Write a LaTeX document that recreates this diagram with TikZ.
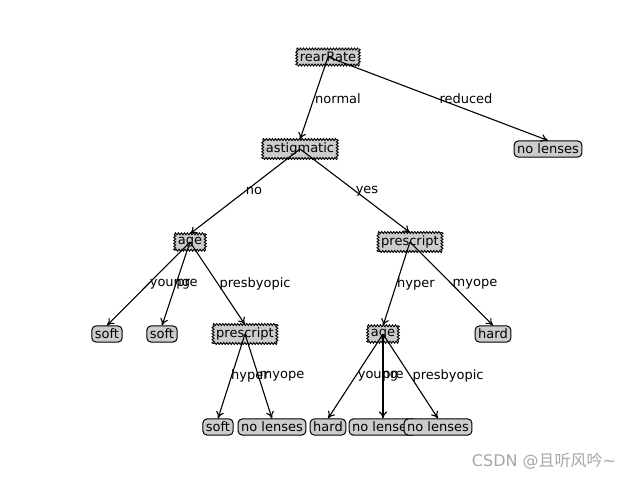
\documentclass[tikz,border=0pt]{standalone}
\usepackage{fontspec}
\setmainfont{DejaVu Sans}
\newfontfamily\cjk{Noto Sans CJK SC}
\usetikzlibrary{decorations.pathmorphing,arrows.meta}
\begin{document}
\begin{tikzpicture}[x=1pt,y=-1pt,font=\fontsize{13}{15}\selectfont,
  dec/.style={fill=black!20,inner sep=3pt},
  zz/.style={line width=0.9pt,decorate,decoration={zigzag,segment length=3pt,amplitude=1pt}},
  leaf/.style={fill=black!20,draw,line width=1pt,rounded corners=4pt,inner sep=3pt},
  arr/.style={-{To[length=7pt,width=8pt]},line width=1.1pt},
  lab/.style={inner sep=0pt}]
\useasboundingbox (0,0) rectangle (640,480);
\node[dec] (r) at (328,57) {rearRate};
\node[dec] (a1) at (300,149) {astigmatic};
\node[leaf] (n1) at (548,149) {no lenses};
\node[dec] (g1) at (190,242) {age};
\node[dec] (p1) at (410,242) {prescript};
\node[leaf] (s1) at (107,334) {soft};
\node[leaf] (s2) at (162,334) {soft};
\node[dec] (p2) at (245,334) {prescript};
\node[dec] (g2) at (383,334) {age};
\node[leaf] (h1) at (493,334) {hard};
\node[leaf] (s3) at (218,427) {soft};
\node[leaf] (n2) at (272,427) {no lenses};
\node[leaf] (h2) at (328,427) {hard};
\node[leaf] (n3) at (383,427) {no lenses};
\node[leaf] (n4) at (438,427) {no lenses};
\foreach \n in {r,a1,g1,p1,p2,g2}{
  \draw[zz] (\n.north west) -- (\n.north east);
  \draw[zz] (\n.north east) -- (\n.south east);
  \draw[zz] (\n.south east) -- (\n.south west);
  \draw[zz] (\n.south west) -- (\n.north west);
}
\foreach \p/\c in {r/a1,r/n1,a1/g1,a1/p1,g1/s1,g1/s2,g1/p2,p1/g2,p1/h1,p2/s3,p2/n2,g2/h2,g2/n3,g2/n4}
  \draw[arr] (\p.center) -- (\c.north);
\node[lab] (l1) at (338,99) {normal};
\node[lab] (l2) at (466,99) {reduced};
\node[lab] (l3) at (254,191) {no};
\node[lab] (l4) at (367,191) {yes};
\node[lab] (l5) at (170,284) {young};
\node[lab] (l6) at (187,284) {pre};
\node[lab] (l7) at (255,284) {presbyopic};
\node[lab] (l8) at (416,284) {hyper};
\node[lab] (l9) at (475,284) {myope};
\node[lab] (l10) at (250,376) {hyper};
\node[lab] (l11) at (282,376) {myope};
\node[lab] (l12) at (378,376) {young};
\node[lab] (l13) at (393,376) {pre};
\node[lab] (l14) at (448,376) {presbyopic};
\node[lab,text=black!35,font=\fontsize{16}{18}\selectfont] (wm) at (544,461) {CSDN @{\cjk 且听风吟}\textasciitilde};
\end{tikzpicture}
\end{document}
